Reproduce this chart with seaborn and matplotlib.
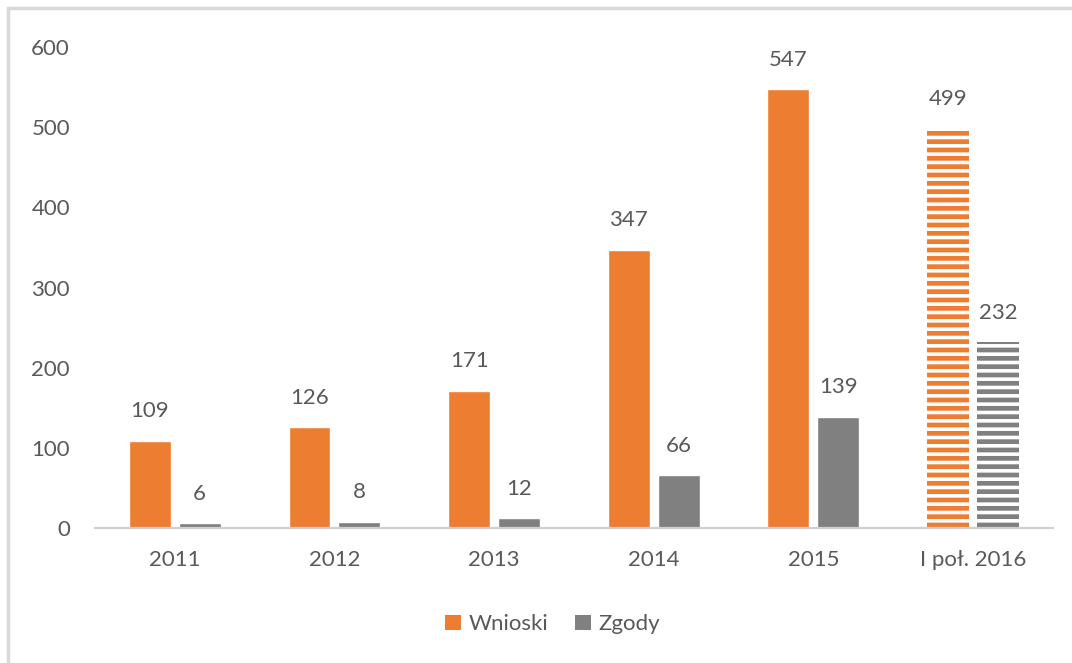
import matplotlib
matplotlib.use("Agg")
import matplotlib.pyplot as plt
from matplotlib.patches import Rectangle
import pandas as pd
import seaborn as sns

categories = ["2011", "2012", "2013", "2014", "2015", "I poł. 2016"]
wnioski = [109, 126, 171, 347, 547, 499]
zgody = [6, 8, 12, 66, 139, 232]

ORANGE = "#ED7D31"
GRAY = "#808080"
TEXT = "#595959"

df = pd.DataFrame({
    "kategoria": categories * 2,
    "seria": ["Wnioski"] * len(categories) + ["Zgody"] * len(categories),
    "wartosc": wnioski + zgody,
})

sns.set_theme(style="white")
plt.rcParams["font.family"] = ["Lato", "DejaVu Sans"]
plt.rcParams["hatch.linewidth"] = 2.6

fig = plt.figure(figsize=(10.72, 6.63), dpi=100)
ax = fig.add_axes([0.0886, 0.2036, 0.8934, 0.7255])

sns.barplot(data=df, x="kategoria", y="wartosc", hue="seria",
            palette=[ORANGE, GRAY], width=0.625, gap=0.16,
            saturation=1, ax=ax, legend=True)

# last category (first half of 2016) is striped
for cont in ax.containers:
    bar = cont.patches[-1]
    bar.set_hatch("--")
    bar.set_edgecolor("white")
    bar.set_linewidth(0)

for cont in ax.containers:
    ax.bar_label(cont, labels=[str(int(v)) for v in cont.datavalues],
                 padding=14, fontsize=16, color=TEXT)

ax.set_xlim(-0.5, len(categories) - 0.5)
ax.set_ylim(0, 600)
ax.set_yticks(range(0, 601, 100))
ax.set_xlabel("")
ax.set_ylabel("")
ax.tick_params(axis="y", length=0, pad=18, labelsize=16, labelcolor=TEXT)
ax.tick_params(axis="x", length=0, pad=16, labelsize=16, labelcolor=TEXT)
for side in ["top", "right", "left"]:
    ax.spines[side].set_visible(False)
ax.spines["bottom"].set_color("#D0D0D0")
ax.spines["bottom"].set_linewidth(1.6)

handles, labels = ax.get_legend_handles_labels()
leg = ax.legend(handles, labels, loc="center", bbox_to_anchor=(0.478, -0.2),
                ncol=2, frameon=False, fontsize=16, handlelength=0.7,
                handleheight=0.7, handletextpad=0.35, columnspacing=1.2,
                labelcolor=TEXT)
for h in leg.legend_handles:
    h.set_hatch(None)
    h.set_edgecolor("none")

# frame around chart area
fig.patches.append(Rectangle((8 / 1072, -0.05), 1.2, 1 - 8 / 663 + 0.05,
                             transform=fig.transFigure, fill=False,
                             edgecolor="#D9D9D9", linewidth=2.5))

fig.savefig("out.png", dpi=100)
